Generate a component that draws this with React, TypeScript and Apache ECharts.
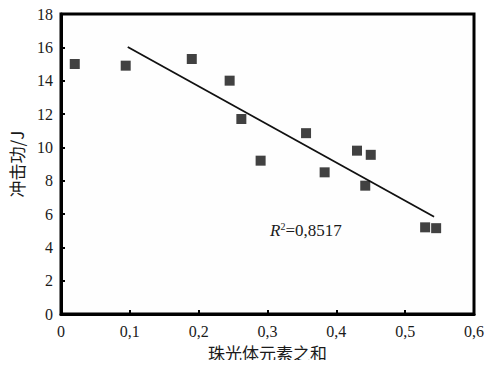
import React, { useEffect, useRef } from "react";
import * as echarts from "echarts";

const xTicks = [0, 0.1, 0.2, 0.3, 0.4, 0.5, 0.6];
const yTicks = [0, 2, 4, 6, 8, 10, 12, 14, 16, 18];
const pearliteSum = [0.02, 0.094, 0.19, 0.245, 0.262, 0.29, 0.356, 0.383, 0.43, 0.45, 0.442, 0.529, 0.545];
const impactEnergy = [15.0, 14.9, 15.3, 14.0, 11.7, 9.2, 10.85, 8.5, 9.8, 9.55, 7.7, 5.2, 5.15];
const fitX = [0.097, 0.542];
const fitY = [16.02, 5.84];
const r2Label = "0,8517";

const serif = "Times New Roman";
const cjk = "Noto Sans CJK SC";

export default function App() {
  const ref = useRef<HTMLDivElement>(null);
  useEffect(() => {
    if (!ref.current) return;
    const chart = echarts.init(ref.current, undefined, { renderer: "svg" });
    const fmtX = (v: number) => String(Math.round(v * 10) / 10).replace(".", ",");
    chart.setOption({
      animation: false,
      backgroundColor: "#ffffff",
      textStyle: { fontFamily: serif },
      grid: { left: 61, top: 14, right: 29, bottom: 54, show: true, borderColor: "#000", borderWidth: 3, backgroundColor: "#fefefe" },
      xAxis: {
        type: "value",
        min: xTicks[0],
        max: xTicks[xTicks.length - 1],
        interval: 0.1,
        name: "珠光体元素之和",
        nameLocation: "middle",
        nameGap: 28,
        nameTextStyle: { fontFamily: cjk, fontSize: 17, color: "#1a1a1a" },
        axisLine: { show: true, onZero: false, lineStyle: { color: "#000", width: 3 } },
        axisTick: { show: true, inside: true, length: 4, lineStyle: { color: "#000", width: 2 } },
        axisLabel: { formatter: fmtX, fontFamily: serif, fontSize: 16, color: "#1a1a1a", margin: 9 },
        splitLine: { show: false },
      },
      yAxis: {
        type: "value",
        min: yTicks[0],
        max: yTicks[yTicks.length - 1],
        interval: 2,
        name: "冲击功/J",
        nameLocation: "middle",
        nameGap: 36,
        nameRotate: 90,
        nameTextStyle: { fontFamily: cjk, fontSize: 17, color: "#1a1a1a" },
        axisLine: { show: true, onZero: false, lineStyle: { color: "#000", width: 3 } },
        axisTick: { show: true, inside: true, length: 4, lineStyle: { color: "#000", width: 2 } },
        axisLabel: { fontFamily: serif, fontSize: 16, color: "#1a1a1a", margin: 8 },
        splitLine: { show: false },
      },
      series: [
        {
          type: "scatter",
          data: pearliteSum.map((x, i) => [x, impactEnergy[i]]),
          symbol: "rect",
          symbolSize: 10,
          itemStyle: { color: "#111111" },
          z: 3,
        },
        {
          type: "line",
          data: fitX.map((x, i) => [x, fitY[i]]),
          symbol: "none",
          lineStyle: { color: "#111111", width: 1.8 },
          z: 2,
        },
      ],
      graphic: [
        {
          type: "text",
          left: 270,
          top: 221,
          style: {
            text: "{i|R}{s|2}{n|=" + r2Label + "}",
            rich: {
              i: { fontFamily: "Liberation Serif", fontStyle: "italic", fontSize: 17, fill: "#1a1a1a" },
              s: { fontFamily: "Liberation Serif", fontSize: 10, fill: "#1a1a1a", verticalAlign: "top", padding: [0, 0, 8, 0] },
              n: { fontFamily: "Liberation Serif", fontSize: 17, fill: "#1a1a1a" },
            },
          },
        },
      ],
    });
    return () => chart.dispose();
  }, []);
  return <div ref={ref} style={{ width: 503, height: 368, margin: -8 }} />;
}
